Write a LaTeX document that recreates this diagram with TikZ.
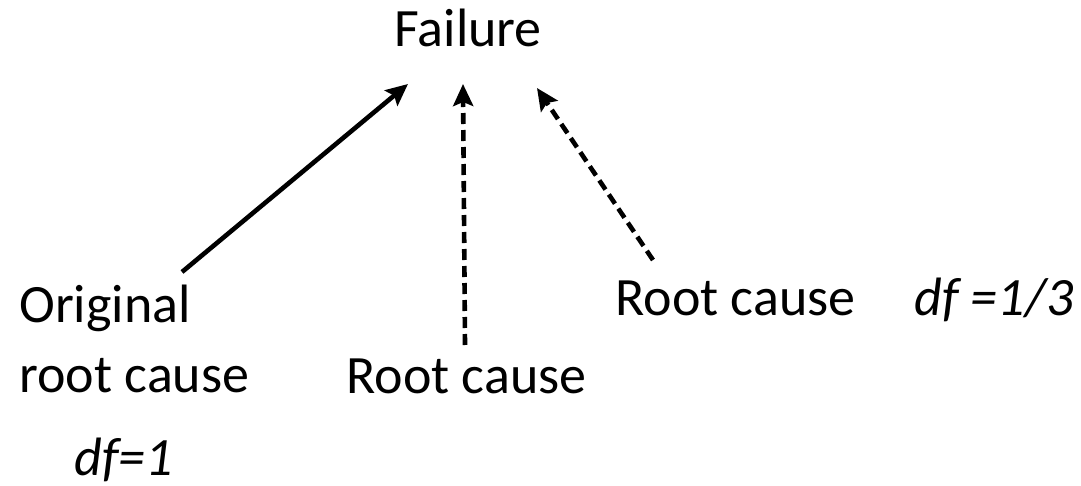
\documentclass[tikz,border=0pt]{standalone}
\usepackage{fontspec}
\setmainfont{Carlito}
\usetikzlibrary{arrows.meta}
\tikzset{
	label/.style={inner sep=0pt, anchor=base west, font=\fontsize{27}{35}\selectfont},
	cause/.style={line width=2.3pt, -{Stealth[length=11pt, width=10pt, inset=2pt]}},
	weak/.style={cause, dash pattern=on 5.5pt off 3pt}
}
\begin{document}
\begin{tikzpicture}[x=0.5pt, y=-0.5pt]
		\useasboundingbox (0,0) rectangle (1081,486);
		
		\node[label] (fail) at (394,47) {Failure};
		
		\node[label, align=left] (orig) at (19,392) {Original\\root cause};
		\node[label] (rcmid) at (346,393) {Root cause};
		\node[label] (rcright) at (615,315) {Root cause};
		
		\node[label] (dfthird) at (914,315) {\textit{df =1/3}};
		\node[label] (dfone) at (74,475) {\textit{df=1}};
		
		% arrow ends
		\coordinate (origtop) at (182,272);
		\coordinate (midtop) at (465,345);
		\coordinate (righttop) at (653,260);
		\coordinate (failsw) at (408,84);
		\coordinate (fails) at (463,84);
		\coordinate (failse) at (537,88);
		
		\draw[cause] (origtop) -- (failsw);
		\draw[weak]  (midtop)  -- (fails);
		\draw[weak]  (righttop) -- (failse);
	\end{tikzpicture}
\end{document}
